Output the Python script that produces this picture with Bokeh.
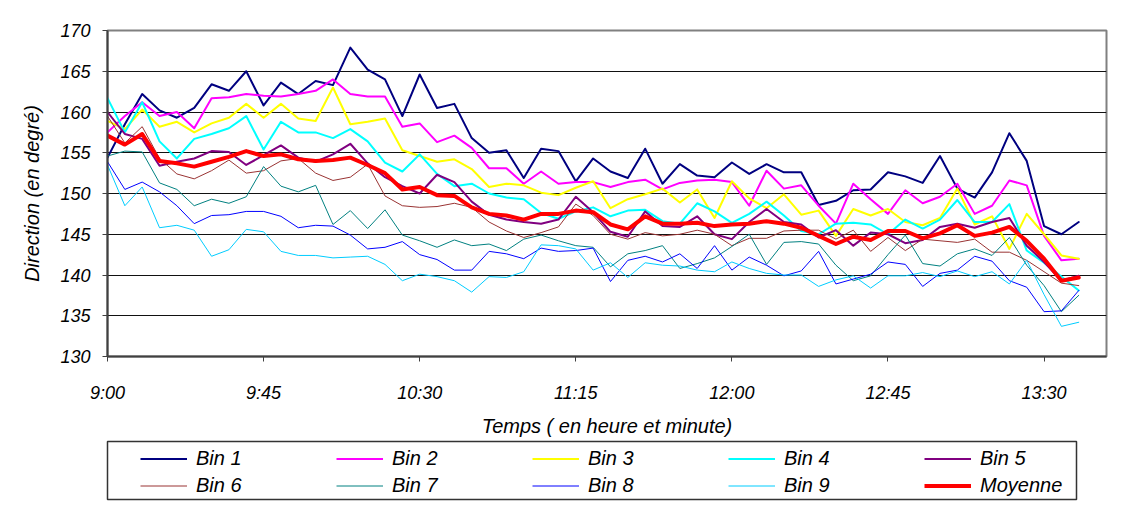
from bokeh.plotting import figure
from bokeh.layouts import column
from bokeh.models import ColumnDataSource, FixedTicker, Legend, LegendItem
from bokeh.embed import file_html
from bokeh.resources import INLINE

# minutes since 9:00
minutes = list(range(0, 285, 5))

x_ticks = [0, 45, 90, 135, 180, 225, 270]
x_tick_labels = ["9:00", "9:45", "10:30", "11:15", "12:00", "12:45", "13:30"]

bin1 = [154.4,158.5,162.2,160.2,159.3,160.5,163.4,162.6,165.0,160.8,
        163.6,162.2,163.8,163.3,167.9,165.2,164.0,159.5,164.6,160.5,
        161.0,156.8,155.0,155.3,151.9,155.5,155.2,151.5,154.3,152.7,
        151.9,155.5,151.2,153.6,152.2,152.0,153.8,152.4,153.6,152.6,
        152.6,148.6,149.1,150.4,150.5,152.6,152.1,151.3,154.6,150.6,
        149.5,152.6,157.4,154.0,146.0,145.0,146.5]
bin2 = [157.5,159.5,161.2,159.5,160.0,158.0,161.7,161.8,162.2,162.0,
        161.9,162.2,162.6,164.0,162.2,161.9,161.9,158.2,158.6,156.3,
        157.1,155.6,153.1,153.1,151.2,152.7,151.2,151.4,151.4,150.8,
        151.4,151.7,150.5,151.3,151.6,151.7,151.4,148.5,152.8,150.6,
        151.0,148.5,146.3,151.2,149.3,147.5,150.4,148.8,149.6,151.2,
        147.5,148.5,151.6,151.0,144.8,141.8,142.0]
bin3 = [158.9,157.9,160.3,158.2,158.8,157.5,158.6,159.3,161.0,159.3,
        161.0,159.2,158.9,163.0,158.5,158.8,159.2,155.3,154.6,153.9,
        154.2,153.0,150.8,151.2,151.0,150.1,149.8,150.7,151.5,148.2,
        149.3,149.9,150.6,148.9,150.5,147.0,151.5,149.4,148.2,149.9,
        147.4,147.9,144.8,148.1,147.3,148.1,146.5,146.1,147.0,150.6,
        146.2,147.2,143.2,147.5,145.0,142.4,142.0]
bin4 = [161.7,157.5,161.2,156.4,154.3,156.7,157.3,158.0,159.5,155.4,
        158.8,157.5,157.5,156.8,157.9,156.4,153.8,152.7,154.8,152.4,
        150.9,151.2,150.0,149.5,149.3,147.6,146.9,147.8,148.3,147.2,
        147.9,148.0,146.6,146.3,148.8,147.8,146.4,147.5,149.0,147.3,
        145.4,145.0,146.3,146.4,146.2,145.0,146.8,145.7,146.8,149.2,
        146.5,146.5,148.7,143.0,141.5,139.8,138.1]
bin5 = [160.0,157.3,156.7,153.4,153.9,154.3,155.2,155.1,153.5,154.7,
        155.9,154.4,153.9,154.8,156.1,153.7,152.0,150.9,150.0,152.3,
        151.4,149.0,147.4,146.8,146.5,146.3,146.8,149.6,147.7,145.3,
        144.7,147.8,146.0,145.9,147.2,145.0,144.4,146.5,148.1,146.5,
        146.2,144.6,145.5,143.6,145.2,145.0,143.9,144.3,145.9,146.3,
        145.8,146.5,147.0,143.6,141.6,139.3,139.9]
bin6 = [159.5,156.2,158.2,154.3,152.4,151.8,152.8,154.1,152.5,152.8,
        154.0,154.3,152.5,151.6,152.0,153.6,149.7,148.5,148.3,148.4,
        148.8,148.3,146.5,145.4,144.6,145.2,145.9,148.7,147.3,145.0,
        144.4,145.2,144.8,145.0,145.5,145.0,143.6,144.5,144.5,145.4,
        145.5,145.5,144.4,145.5,142.9,144.6,143.0,144.4,144.2,144.0,
        144.4,142.8,142.8,141.8,140.4,139.0,138.7]
bin7 = [154.6,155.2,155.1,151.3,150.5,148.5,149.3,148.8,149.6,153.3,
        150.9,150.2,151.0,146.2,147.9,145.7,148.0,144.9,144.2,143.4,
        144.3,143.6,143.8,143.0,144.4,144.9,144.2,143.6,143.4,141.0,
        142.6,143.0,143.6,140.8,141.4,142.1,143.5,145.0,141.3,144.0,
        144.1,143.8,141.2,139.3,139.9,142.5,144.9,141.4,141.1,142.6,
        143.2,142.4,144.6,141.2,138.7,135.5,137.5]
bin8 = [153.9,150.5,151.4,150.2,148.5,146.3,147.3,147.4,147.8,147.8,
        147.2,145.8,146.1,146.0,144.9,143.2,143.4,144.1,142.5,141.9,
        140.6,140.6,142.9,142.6,142.0,143.3,142.9,143.0,143.3,139.2,
        141.8,142.3,141.6,142.6,140.8,143.6,140.6,142.2,141.2,139.9,
        140.5,142.9,138.9,139.5,140.1,141.6,141.3,138.6,140.2,140.6,
        142.3,141.7,139.3,138.5,135.5,135.6,138.1]
bin9 = [153.5,148.5,150.8,145.8,146.1,145.5,142.3,143.1,145.6,145.3,
        142.9,142.4,142.4,142.1,142.2,142.3,141.3,139.3,140.1,139.8,
        139.3,137.9,139.8,139.7,140.4,143.7,143.6,143.2,140.6,141.5,
        139.7,141.5,141.2,141.1,140.6,140.4,141.6,140.8,140.2,140.0,
        140.0,138.6,139.4,139.9,138.4,139.9,139.9,140.3,139.8,140.5,
        139.8,140.4,138.9,141.8,137.6,133.7,134.2]
moyenne = [157.1,156.0,157.3,154.0,153.7,153.3,153.9,154.5,155.2,154.6,
           154.8,154.2,154.0,154.1,154.4,153.5,152.5,150.5,150.8,149.8,
           149.7,148.3,147.5,147.3,146.8,147.5,147.5,147.9,147.7,146.2,
           145.6,147.2,146.3,146.3,146.4,146.0,146.2,146.3,146.6,146.3,
           145.8,144.8,143.8,144.7,144.3,145.4,145.4,144.5,145.1,146.1,
           144.8,145.2,145.9,144.2,142.0,139.3,139.7]

series_names = ["Bin 1", "Bin 2", "Bin 3", "Bin 4", "Bin 5",
                "Bin 6", "Bin 7", "Bin 8", "Bin 9", "Moyenne"]
series_values = [bin1, bin2, bin3, bin4, bin5, bin6, bin7, bin8, bin9, moyenne]
series_colors = ["#000080", "#FF00FF", "#FFFF00", "#00FFFF", "#800080",
                 "#993333", "#008080", "#0000FF", "#00CCFF", "#FF0000"]
series_widths = [2, 2, 2, 2, 2, 1, 1, 1, 1, 4]

FONT = "Liberation Sans"

# ---------------- main chart ----------------
p = figure(frame_width=999, frame_height=326,
           min_border_left=107, min_border_right=15,
           min_border_top=30, min_border_bottom=76,
           x_range=(0, 288), y_range=(130, 170),
           output_backend="svg", toolbar_location=None,
           background_fill_color="white", border_fill_color="white")

p.outline_line_color = "#808080"
p.outline_line_width = 2

p.xgrid.visible = False
p.ygrid.grid_line_color = "#111111"
p.ygrid.grid_line_width = 1

p.xaxis.ticker = FixedTicker(ticks=x_ticks)
p.xaxis.major_label_overrides = {t: lab for t, lab in zip(x_ticks, x_tick_labels)}
p.yaxis.ticker = FixedTicker(ticks=list(range(130, 171, 5)))

for ax in (p.xaxis[0], p.yaxis[0]):
    ax.axis_line_color = "#404040"
    ax.axis_line_width = 2
    ax.major_tick_line_color = "#404040"
    ax.major_tick_line_width = 1
    ax.major_tick_out = 5
    ax.major_tick_in = 0
    ax.minor_tick_line_color = None
    ax.major_label_text_font = FONT
    ax.major_label_text_font_style = "italic"
    ax.major_label_text_font_size = "18px"
    ax.major_label_text_color = "black"
    ax.axis_label_text_font = FONT
    ax.axis_label_text_font_style = "italic"
    ax.axis_label_text_font_size = "20px"
    ax.axis_label_text_color = "black"

p.xaxis.axis_label = "Temps ( en heure et minute)"
p.yaxis.axis_label = "Direction (en degré)"
p.xaxis.major_label_standoff = 21
p.yaxis.major_label_standoff = 12
p.xaxis.axis_label_standoff = 9
p.yaxis.axis_label_standoff = 14

for name, vals, col, w in zip(series_names, series_values, series_colors, series_widths):
    src = ColumnDataSource(dict(x=minutes, y=vals))
    p.line("x", "y", source=src, line_color=col, line_width=w,
           line_join="round", line_cap="round")

# ---------------- legend box (separate panel, series kept off its frame) ----------------
p2 = figure(frame_width=969, frame_height=58,
            min_border_left=104, min_border_right=48,
            min_border_top=2, min_border_bottom=2,
            x_range=(0, 1), y_range=(0, 1),
            x_axis_type=None, y_axis_type=None,
            output_backend="svg", toolbar_location=None,
            background_fill_color="white", border_fill_color="white")
p2.grid.visible = False
p2.outline_line_color = "#333333"
p2.outline_line_width = 1.5

items = []
for name, vals, col, w in zip(series_names, series_values, series_colors, series_widths):
    src = ColumnDataSource(dict(x=minutes, y=vals))
    r = p2.line("x", "y", source=src, line_color=col, line_width=w)
    items.append(LegendItem(label=name, renderers=[r]))

legend = Legend(items=items, location=(33, 0), orientation="horizontal", ncols=5,
                padding=0, spacing=0, margin=0,
                glyph_width=47, glyph_height=27, label_height=27,
                label_width=140, label_standoff=9,
                label_text_font=FONT, label_text_font_style="italic",
                label_text_font_size="20px", label_text_color="black",
                border_line_color=None, background_fill_alpha=0.0)
p2.add_layout(legend, "center")

layout = column(p, p2, spacing=0)
open("out.html", "w").write(file_html(layout, INLINE))
